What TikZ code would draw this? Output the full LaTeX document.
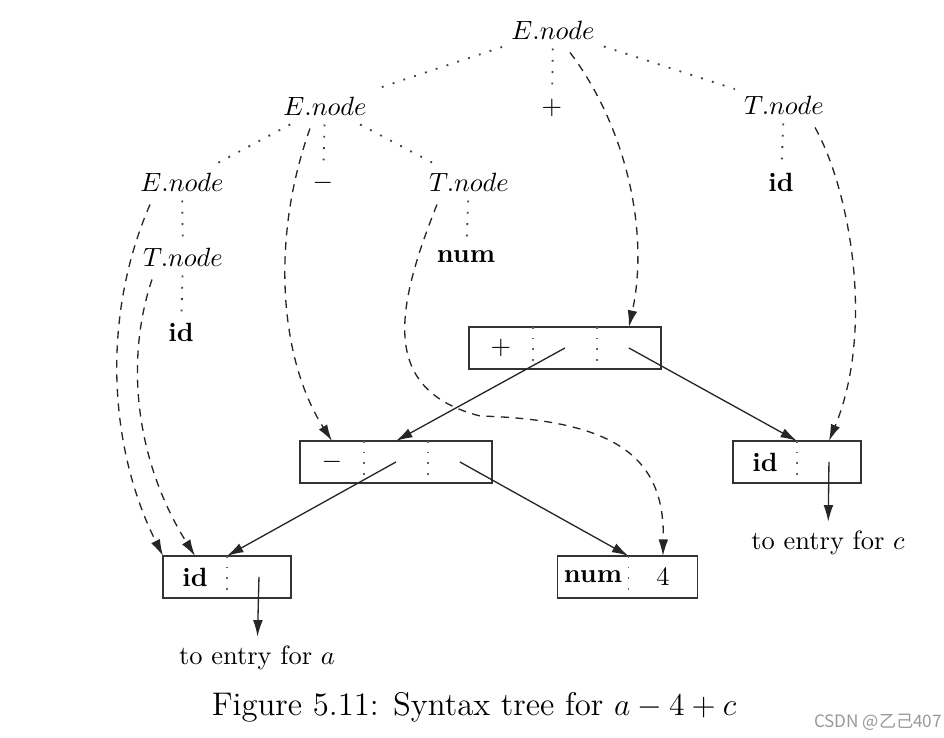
\documentclass[tikz,border=0pt]{standalone}
\usepackage{fontspec}
\usetikzlibrary{positioning,arrows.meta,calc}
\newfontfamily\cjk{Noto Sans CJK SC}
\tikzset{
  cell/.style={minimum width=0.851cm,minimum height=0.56cm,inner sep=0pt,outer sep=0pt},
  box/.style={draw=black!80,line width=0.6pt},
  sep/.style={draw=black!60,line width=0.7pt,dash pattern=on 0.7pt off 3.3pt},
  tree/.style={draw=black!75,line width=0.7pt,dash pattern=on 0.7pt off 3.6pt},
  ptr/.style={draw=black!85,line width=0.5pt,-{Latex[length=2.2mm,width=1.3mm]}},
  link/.style={ptr,dash pattern=on 3pt off 2.5pt},
}
\begin{document}
\begin{tikzpicture}[x=0.0133cm,y=-0.0133cm]
\useasboundingbox (0,0) rectangle (944,738);
% parse tree
\node (e1) at (553,30) {$E.node$};
\node (e2) at (325,106) {$E.node$};
\node (plus) at (552,108) {$+$};
\node (t1) at (784,105) {$T.node$};
\node (e3) at (182,182) {$E.node$};
\node (minus) at (323,183) {$-$};
\node (t2) at (469,182) {$T.node$};
\node (id1) at (781,182) {\textbf{id}};
\node (t3) at (183,257) {$T.node$};
\node (num) at (466,257) {\textbf{num}};
\node (id2) at (181,332) {\textbf{id}};
\draw[tree] (e1) -- (e2) (e1) -- (plus) (e1) -- (t1)
  (e2) -- (e3) (e2) -- (minus) (e2) -- (t2)
  (e3) -- (t3) (t3) -- (id2) (t2) -- (num) (t1) -- (id1);
% syntax tree boxes
\node[cell] (p1) at (501,348) {$+$};
\node[cell,right=0pt of p1] (p2) {};
\node[cell,right=0pt of p2] (p3) {};
\node[cell] (m1) at (332,462) {$-$};
\node[cell,right=0pt of m1] (m2) {};
\node[cell,right=0pt of m2] (m3) {};
\node[cell] (a1) at (195,577) {\textbf{id}};
\node[cell,right=0pt of a1] (a2) {};
\node[cell] (c1) at (765,462) {\textbf{id}};
\node[cell,right=0pt of c1] (c2) {};
\node[cell,minimum width=0.944cm] (n1) at (593,577) {\textbf{num}};
\node[cell,minimum width=0.918cm,right=0pt of n1] (n2) {4};
\draw[box] (p1.north west) rectangle (p3.south east)
  (m1.north west) rectangle (m3.south east)
  (a1.north west) rectangle (a2.south east)
  (c1.north west) rectangle (c2.south east)
  (n1.north west) rectangle (n2.south east);
\foreach \c in {p1,p2,m1,m2,a1,c1,n1}
  \draw[sep] (\c.north east) -- (\c.south east);
% pointers
\node (ta) at (257,658) {to entry for $a$};
\node (tc) at (828,543) {to entry for $c$};
\draw[ptr] (p2.center) -- (m2.north);
\draw[ptr] (p3.center) -- (c1.north east);
\draw[ptr] (m2.center) -- (a1.north east);
\draw[ptr] (m3.center) -- (n1.north east);
\draw[ptr] (a2.center) -- (ta);
\draw[ptr] (c2.center) -- (tc);
% node attributes
\draw[link] ($(e1.south)+(17,4)$) .. controls (625,125) and (650,230) .. (p3.north);
\draw[link] ($(t1.south)+(31,4)$) .. controls (850,190) and (875,330) .. (c2.north);
\draw[link] ($(e2.south)+(-15,4)$) .. controls (270,240) and (280,360) .. (m1.north);
\draw[link] ($(t2.south)+(-32,4)$) .. controls (395,310) and (380,390) .. (480,416)
  .. controls (620,420) and (665,460) .. (n2.north);
\draw[link] ($(e3.south)+(-32,4)$) .. controls (100,320) and (110,450) .. (a1.north west);
\draw[link] ($(t3.south)+(-31,4)$) .. controls (125,360) and (135,460) .. (a1.north);
\node (cap) at (474,707) {\fontsize{12.4}{15}\selectfont Figure 5.11: Syntax tree for $a-4+c$};
\node[text=black!40,font=\cjk\fontsize{6.5}{8}\selectfont] (mark) at (878,722) {CSDN @乙己407};
\end{tikzpicture}
\end{document}
